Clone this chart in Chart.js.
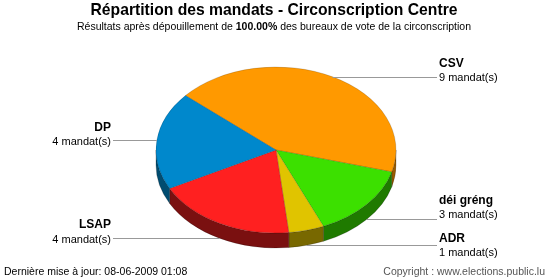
<!DOCTYPE html>
<html>
<head>
<meta charset="utf-8">
<script src="https://cdn.jsdelivr.net/npm/chart.js"></script>
<style>
  body { margin: 0; background: #fff; }
  #cadre { width: 550px; height: 280px; position: relative; }
</style>
</head>
<body>
<div id="cadre"><canvas id="graphique" width="550" height="280"></canvas></div>
<script>
// données du graphique
const partis = ["CSV", "déi gréng", "ADR", "LSAP", "DP"];
const mandats = [9, 3, 1, 4, 4];
const couleurs = ["#FF9900", "#3CE000", "#E0C400", "#FF2020", "#0088CC"];
const couleursCote = ["#9A5C00", "#1F7A00", "#786800", "#7A1010", "#004C70"];

const titre = "Répartition des mandats - Circonscription Centre";
const sousTitre = ["Résultats après dépouillement de ", "100.00%", " des bureaux de vote de la circonscription"];
const majText = "Dernière mise à jour: 08-06-2009 01:08";
const copyText = "Copyright : www.elections.public.lu";

const aplat = 83 / 120;   // rapport hauteur / largeur de l'ellipse
const epaisseur = 15;     // épaisseur du camembert
const police = "'Liberation Sans', Arial, sans-serif";

// normalise un angle dans [0, 2PI)
const norm = a => ((a % (2 * Math.PI)) + 2 * Math.PI) % (2 * Math.PI);

const camembert3D = {
    id: "camembert3D",
    beforeDatasetsDraw(chart) {
        const ctx = chart.ctx;
        const arcs = chart.getDatasetMeta(0).data;
        const cx = arcs[0].x, cy = arcs[0].y, r = arcs[0].outerRadius, ry = r * aplat;

        // côtés visibles (partie basse de l'ellipse)
        arcs.forEach((a, i) => {
            for (let k = -2; k <= 1; k++) {
                const off = k * 2 * Math.PI;
                const a1 = Math.max(a.startAngle + off, 0), a2 = Math.min(a.endAngle + off, Math.PI);
                if (a2 <= a1) continue;
                ctx.save();
                ctx.beginPath();
                ctx.ellipse(cx, cy, r, ry, 0, a1, a2);
                ctx.ellipse(cx, cy + epaisseur, r, ry, 0, a2, a1, true);
                ctx.closePath();
                ctx.fillStyle = couleursCote[i];
                ctx.fill();
                ctx.strokeStyle = "rgba(0,0,0,0.35)";
                ctx.lineWidth = 0.6;
                ctx.stroke();
                ctx.restore();
            }
        });

        // aplatissement du dessus
        ctx.save();
        ctx.translate(0, cy);
        ctx.scale(1, aplat);
        ctx.translate(0, -cy);
    },
    afterDatasetsDraw(chart) {
        const ctx = chart.ctx;
        ctx.restore();

        const arcs = chart.getDatasetMeta(0).data;
        const cx = arcs[0].x, cy = arcs[0].y, r = arcs[0].outerRadius, ry = r * aplat;

        // étiquettes
        const etiquettes = arcs.map((a, i) => {
            const mid = norm((a.startAngle + a.endAngle) / 2);
            const px = cx + r * Math.cos(mid);
            let py = cy + ry * Math.sin(mid);
            if (Math.sin(mid) > 0) py += epaisseur;
            return { i, px, py, ty: py, droite: Math.cos(mid) > 0 };
        });

        [true, false].forEach(cote => {
            const groupe = etiquettes.filter(e => e.droite === cote).sort((a, b) => a.py - b.py);
            for (let j = 1; j < groupe.length; j++) {
                const ecart = groupe[j].ty - groupe[j - 1].ty;
                if (ecart < 38) {
                    const d = (38 - ecart) / 2;
                    groupe[j - 1].ty -= d;
                    groupe[j].ty += d;
                }
            }
        });

        ctx.save();
        etiquettes.forEach(e => {
            const xLigne = e.droite ? 437 : 113;
            ctx.strokeStyle = "#999";
            ctx.lineWidth = 1;
            ctx.beginPath();
            ctx.moveTo(e.px, Math.round(e.py) + 0.5);
            ctx.lineTo(xLigne, Math.round(e.py) + 0.5);
            ctx.stroke();

            ctx.fillStyle = "#000";
            ctx.textBaseline = "middle";
            ctx.textAlign = e.droite ? "left" : "right";
            const xt = e.droite ? 439 : 111;
            ctx.font = "bold 12px " + police;
            ctx.fillText(partis[e.i], xt, e.ty - 13);
            ctx.font = "11px " + police;
            ctx.fillText(mandats[e.i] + " mandat(s)", xt, e.ty + 1.5);
        });
        ctx.restore();
    },
    afterDraw(chart) {
        const ctx = chart.ctx;
        ctx.save();
        ctx.fillStyle = "#000";
        ctx.textBaseline = "middle";

        ctx.font = "bold 15.7px " + police;
        ctx.textAlign = "center";
        ctx.fillText(titre, 274, 11);

        // sous-titre avec partie en gras
        ctx.textAlign = "left";
        const fonts = ["10.5px " + police, "bold 10.5px " + police, "10.5px " + police];
        let total = 0;
        sousTitre.forEach((t, i) => { ctx.font = fonts[i]; total += ctx.measureText(t).width; });
        let x = 274 - total / 2;
        sousTitre.forEach((t, i) => {
            ctx.font = fonts[i];
            ctx.fillText(t, x, 27);
            x += ctx.measureText(t).width;
        });

        ctx.font = "10.5px " + police;
        ctx.fillText(majText, 4, 272);
        ctx.fillStyle = "#555";
        ctx.textAlign = "right";
        ctx.fillText(copyText, 545, 272);
        ctx.restore();
    }
};

new Chart(document.getElementById("graphique"), {
    type: "pie",
    data: {
        labels: partis,
        datasets: [{
            data: mandats,
            backgroundColor: couleurs,
            borderColor: "rgba(0,0,0,0.3)",
            borderWidth: 0.6,
            radius: 120,
            clip: false
        }]
    },
    options: {
        responsive: false,
        animation: false,
        rotation: 311,
        layout: { padding: { left: 100, right: 98, top: 30, bottom: 10 } },
        plugins: { legend: { display: false }, tooltip: { enabled: false }, title: { display: false } }
    },
    plugins: [camembert3D]
});
</script>
</body>
</html>
